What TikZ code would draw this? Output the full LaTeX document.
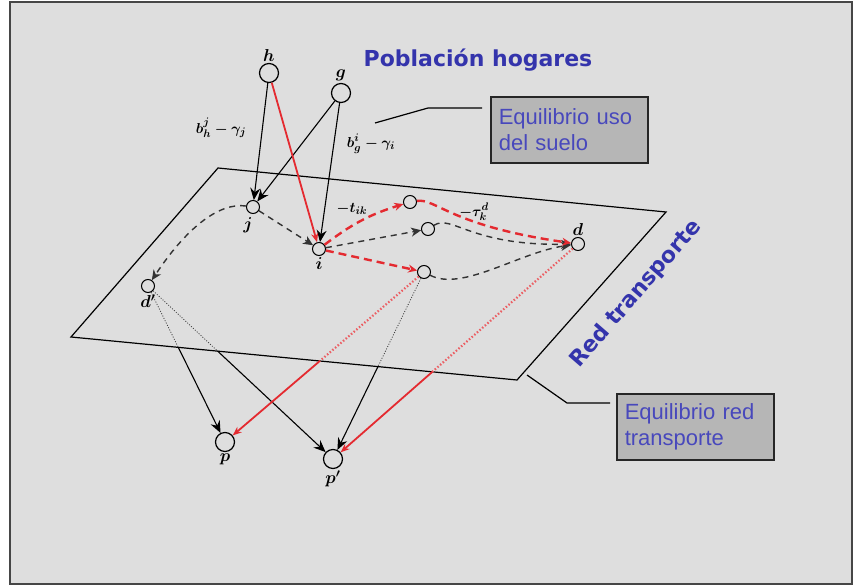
\documentclass[tikz,border=0pt]{standalone}
\usepackage{fontspec}
\newfontfamily\boxfont{Liberation Sans}
\newfontfamily\titlefont{DejaVu Sans}
\usetikzlibrary{arrows.meta,calc}
\definecolor{bg}{RGB}{222,222,222}
\definecolor{framegray}{RGB}{70,70,70}
\definecolor{boxgray}{RGB}{182,182,182}
\definecolor{boxblue}{RGB}{72,72,188}
\definecolor{titleblue}{RGB}{52,52,172}
\definecolor{flow}{RGB}{228,42,48}

\begin{document}
\begin{tikzpicture}[x=1pt,y=-1pt,
  bigstop/.style={circle,draw,line width=1.2pt,fill=bg,inner sep=0pt,minimum size=19pt},
  stop/.style={circle,draw,line width=1pt,fill=bg,inner sep=0pt,minimum size=13pt},
  blk/.style={line width=1.1pt,-{Stealth[length=12pt,width=10pt,inset=4pt]}},
  thindot/.style={line width=0.8pt,draw=black!75,dash pattern=on 1pt off 1.6pt},
  dsh/.style={line width=1.4pt,draw=black!80,dash pattern=on 6pt off 5pt,
              -{Stealth[length=10pt,width=9pt,inset=3pt]}},
  flowline/.style={line width=1.8pt,draw=flow,-{Stealth[length=9pt,width=7pt,flow]}},
  rdsh/.style={line width=2.4pt,draw=flow,dash pattern=on 8pt off 5pt,
               -{Stealth[length=9pt,width=8pt,flow]}},
  rdot/.style={line width=2.2pt,draw=flow!75,dash pattern=on 1.5pt off 2pt},
  infobox/.style={draw=black!85,line width=1.6pt,fill=boxgray,text=boxblue,
                  font=\boxfont\fontsize{22}{26}\selectfont,align=left,
                  text width=141pt,inner xsep=8pt,minimum height=66pt,anchor=north west},
  bigtitle/.style={text=titleblue,font=\titlefont\bfseries\fontsize{22}{26}\selectfont},
  costlbl/.style={font=\boldmath\fontsize{15}{17}\selectfont},
  every label/.append style={font=\boldmath\fontsize{17}{19}\selectfont,inner sep=1.5pt}]
\useasboundingbox (0,0) rectangle (857,588);
\draw[line width=2pt,draw=framegray,fill=bg] (10,2) rectangle (852,584);

% plano de la red
\draw[line width=1.2pt] (218,168) -- (666,212) -- (517,380) -- (71,337) -- cycle;

% nodos
\node[bigstop,label=above:$h$] (h) at (269,73) {};
\node[bigstop,label=above:$g$] (g) at (341,93) {};
\node[stop,label={[xshift=-5pt,yshift=-2pt]below:$j$}] (j) at (253,207) {};
\node[stop,label={below:$i$}] (i) at (319,249) {};
\node[stop] (k1) at (410,202) {};
\node[stop] (k2) at (428,229) {};
\node[stop] (k3) at (424,272) {};
\node[stop,label=above:$d$] (d) at (578,244) {};
\node[stop,label=below:$d'$] (dp) at (148,286) {};
\node[bigstop,label=below:$p$] (p) at (225,442) {};
\node[bigstop,label=below:$p'$] (pp) at (333,459) {};

% textos
\node[bigtitle] (hogares) at (478,60) {Población hogares};
\node[bigtitle,rotate=49] (red) at (636,294) {Red transporte};
\node[infobox] (uso) at (490,96) {Equilibrio uso\\del suelo};
\node[infobox] (eqred) at (616,393) {Equilibrio red\\transporte};
\node[costlbl] (bh) at (221,128) {$b^{j}_{h}-\gamma_{j}$};
\node[costlbl] (bg) at (371,144) {$b^{i}_{g}-\gamma_{i}$};
\node[costlbl] (tik) at (352,209) {$-t_{ik}$};
\node[costlbl] (tau) at (474,212) {$-\tau^{d}_{k}$};

% llamadas
\coordinate (c1) at (375,123);
\coordinate (c2) at (428,108);
\coordinate (c3) at (527,375);
\coordinate (c4) at (567,403);
\draw[line width=1.2pt] (c1) -- (c2) -- ($(uso.north west)+(-8,12)$);
\draw[line width=1.2pt] (c3) -- (c4) -- ($(eqred.north west)+(-6,10)$);

% eleccion de localizacion
\draw[blk] (h) -- (j);
\draw[blk] (g) -- (j);
\draw[blk] (g) -- (i);
\draw[flowline] (h) -- (i);

% rutas en la red
\draw[dsh] (j) -- (i);
\draw[dsh] (j) .. controls (218,202) and (185,230) .. (dp);
\draw[dsh] (i) -- (k2);
\draw[dsh] (k2) .. controls (452,214) and (470,246) .. (d);
\draw[dsh] (k3) .. controls (462,292) and (520,252) .. (d);
\draw[rdsh] (i) to[bend left=10] (k1);
\draw[rdsh] (k1) .. controls (436,198) and (450,226) .. (d);
\draw[rdsh] (i) -- (k3);

% hacia las actividades
\coordinate (x1) at ($(dp)!0.393!(p)$);
\coordinate (x2) at ($(dp)!0.376!(pp)$);
\coordinate (x3) at ($(k3)!0.506!(pp)$);
\coordinate (x4) at ($(k3)!0.523!(p)$);
\coordinate (x5) at ($(d)!0.595!(pp)$);
\draw[thindot] (dp) -- (x1);
\draw[blk] (x1) -- (p);
\draw[thindot] (dp) -- (x2);
\draw[blk] (x2) -- (pp);
\draw[thindot] (k3) -- (x3);
\draw[blk] (x3) -- (pp);
\draw[rdot] (k3) -- (x4);
\draw[flowline] (x4) -- (p);
\draw[rdot] (d) -- (x5);
\draw[flowline] (x5) -- (pp);
\end{tikzpicture}
\end{document}
